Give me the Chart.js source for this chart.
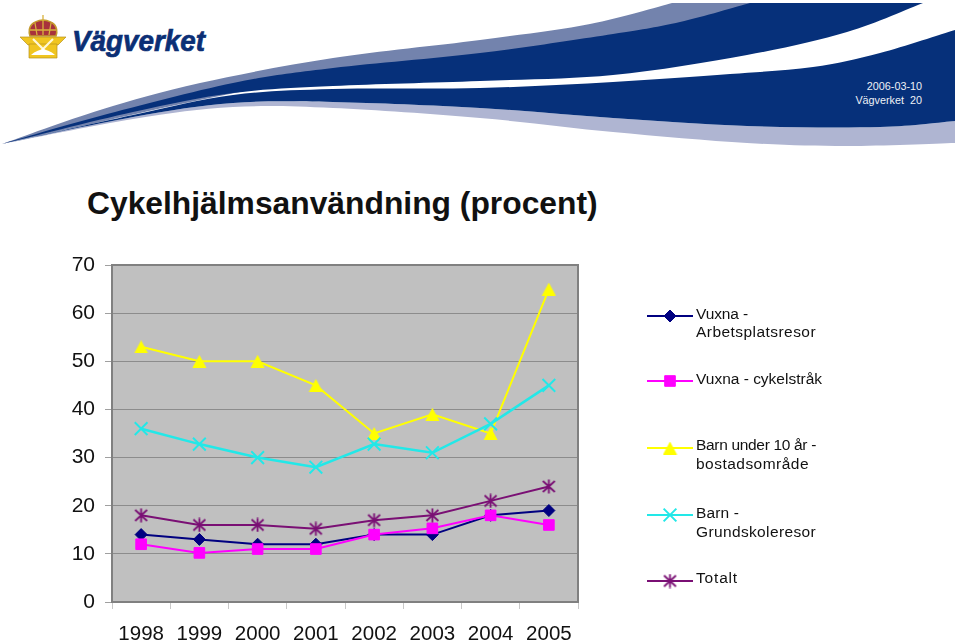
<!DOCTYPE html>
<html lang="sv">
<head>
  <meta charset="UTF-8">
  <title>Cykelhjälmsanvändning (procent)</title>
  <script src="https://cdn.jsdelivr.net/npm/chart.js"></script>
  <style>
    html, body { margin: 0; padding: 0; background: #fff; overflow: hidden; }
    body { width: 960px; height: 641px; position: relative; font-family: 'Liberation Sans', Arial, sans-serif; }
    #banner, canvas { position: absolute; left: 0; top: 0; }
    h1 {
      position: absolute; left: 87px; top: 184px; margin: 0;
      font-size: 31.8px; line-height: 38px; font-weight: bold; color: #111; white-space: nowrap;
    }
  </style>
</head>
<body>
  <svg id="banner" width="960" height="160" viewBox="0 0 960 160" xmlns="http://www.w3.org/2000/svg">
    <path id="lightTop" fill="#7383ad"></path>
    <path id="lightBottom" fill="#afb5d2"></path>
    <path id="darkTop" fill="#06307a"></path>
    <path id="darkBottom" fill="#06307a"></path>
    <!-- logo -->
    <path d="M30 36 C27 26 33 21 43 20 C53 21 59 26 56 36 Z" fill="#a8323c" stroke="#c49a2c" stroke-width="1.6"/>
    <path d="M43 15 v6 M35 23 L37 35 M43 21 V35 M51 23 L49 35 M30 30 H56" stroke="#d8b23e" stroke-width="1.3" fill="none"/>
    <path d="M20 37 H66 L58 45 H28 Z" fill="#f0c520" stroke="#b8921e" stroke-width="0.7"/>
    <path d="M29 44 H57 V58 H29 Z" fill="#f0c520" stroke="#b8921e" stroke-width="0.7"/>
    <path d="M33 39 L43 49 L53 39" fill="none" stroke="#fff8d8" stroke-width="2.2"/>
    <path d="M31 55 C36 50 40 51 43 48 C46 51 50 50 55 55 Z" fill="#fff"/>
    <text x="72" y="51" font-family="Liberation Sans" font-weight="bold" font-style="italic" font-size="30" fill="#0b2f75" stroke="#0b2f75" stroke-width="0.7" textLength="133" lengthAdjust="spacingAndGlyphs">Vägverket</text>
    <text x="922" y="90" text-anchor="end" font-family="Liberation Sans" font-size="10.8" fill="#eef0f6">2006-03-10</text>
    <text x="922" y="104" text-anchor="end" font-family="Liberation Sans" font-size="10.8" fill="#eef0f6" xml:space="preserve">Vägverket  20</text>
  </svg>
  <h1>Cykelhjälmsanvändning (procent)</h1>
  <canvas id="chart" width="960" height="641"></canvas>

  <script>
    const years = ['1998', '1999', '2000', '2001', '2002', '2003', '2004', '2005'];
    const yTicks = [0, 10, 20, 30, 40, 50, 60, 70];

    const vuxnaArbete = [14, 13, 12, 12, 14, 14, 18, 19];
    const vuxnaCykel = [12, 10.2, 11, 11, 14, 15.3, 18, 16];
    const barnUnder10 = [53, 50, 50, 45, 35, 39, 35, 65];
    const barnSkola = [36, 32.8, 30, 28, 32.8, 31, 37, 45];
    const totalt = [18, 16, 16, 15.2, 17, 18, 21, 24];

    const legendLabels = [
      ['Vuxna -', 'Arbetsplatsresor'],
      ['Vuxna - cykelstråk'],
      ['Barn under 10 år -', 'bostadsområde'],
      ['Barn -', 'Grundskoleresor'],
      ['Totalt']
    ];
    const legendLineY = [316, 381, 448, 515, 581];
    const legendTextY = [[315, 333], [380], [446, 465], [514, 533], [579]];
    const legendTextWidth = [[52, 120], [126], [120, 113], [43, 120], [42]];

    // banner shapes, smoothed through hand-read outline points
    function smooth(pts) {
      let d = '';
      for (let i = 0; i < pts.length - 1; i++) {
        const p0 = pts[i - 1] || pts[i], p1 = pts[i], p2 = pts[i + 1], p3 = pts[i + 2] || p2;
        d += ' C' + (p1[0] + (p2[0] - p0[0]) / 6) + ' ' + (p1[1] + (p2[1] - p0[1]) / 6) + ' ' +
          (p2[0] - (p3[0] - p1[0]) / 6) + ' ' + (p2[1] - (p3[1] - p1[1]) / 6) + ' ' + p2[0] + ' ' + p2[1];
      }
      return d;
    }
    function band(id, upper, lower) {
      const d = 'M' + upper[0].join(' ') + smooth(upper) + ' L' + lower[0].join(' ') + smooth(lower) + ' Z';
      document.getElementById(id).setAttribute('d', d);
    }
    band('lightTop',
      [[2, 144], [100, 110], [200, 83], [333, 58], [480, 40], [590, 24], [672, 3]],
      [[760, 3], [680, 26], [590, 42], [480, 56], [333, 75], [200, 100], [100, 122], [2, 144]]);
    band('darkTop',
      [[2, 144], [100, 116], [233, 83], [333, 68], [480, 53], [613, 34], [680, 22], [750, 3]],
      [[923, 3], [847, 32], [747, 55], [613, 75], [480, 81], [333, 86], [233, 93], [133, 112], [2, 144]]);
    band('darkBottom',
      [[2, 144], [133, 115], [233, 95], [333, 89], [480, 88], [613, 82], [730, 74], [813, 67], [880, 53], [955, 30]],
      [[955, 121], [880, 127], [747, 126], [613, 118], [480, 108], [333, 102], [233, 103], [133, 117], [2, 144]]);
    band('lightBottom',
      [[2, 144], [133, 117], [233, 103], [333, 102], [480, 108], [613, 118], [747, 126], [880, 127], [955, 121]],
      [[955, 143], [847, 146], [747, 143], [613, 132], [480, 118], [333, 108], [233, 107], [133, 119], [2, 144]]);

    // excel style star: an x with a vertical stroke
    const star = document.createElement('canvas');
    star.width = 15; star.height = 15;
    const sc = star.getContext('2d');
    sc.strokeStyle = '#7a0f74';
    sc.lineWidth = 1.8;
    sc.beginPath();
    sc.moveTo(1.5, 2); sc.lineTo(13.5, 13);
    sc.moveTo(13.5, 2); sc.lineTo(1.5, 13);
    sc.moveTo(7.5, 0.5); sc.lineTo(7.5, 14.5);
    sc.stroke();

    // triangle centred on its point, the built in one sits too high
    const triangle = document.createElement('canvas');
    triangle.width = 15; triangle.height = 13;
    const tc = triangle.getContext('2d');
    tc.fillStyle = '#ffff00';
    tc.beginPath();
    tc.moveTo(7.5, 0); tc.lineTo(14.5, 13); tc.lineTo(0.5, 13);
    tc.fill();

    function series(label, data, color, pointStyle, pointRadius, order, width, markerWidth) {
      return {
        label, data, order, borderColor: color, backgroundColor: color,
        borderWidth: width, tension: 0, pointStyle, pointRadius,
        pointBorderColor: color, pointBackgroundColor: color, pointBorderWidth: markerWidth
      };
    }

    const plotBackground = {
      id: 'plotBackground',
      beforeDraw(chart) {
        const a = chart.chartArea, c = chart.ctx;
        c.save();
        c.fillStyle = '#c0c0c0';
        c.fillRect(a.left, a.top, a.width, a.height);
        c.restore();
      },
      afterDraw(chart) {
        const a = chart.chartArea, c = chart.ctx;
        c.save();
        c.strokeStyle = '#808080';
        c.lineWidth = 2;
        c.strokeRect(a.left, a.top, a.width, a.height);
        c.restore();
      }
    };

    const sideLegend = {
      id: 'sideLegend',
      afterDraw(chart) {
        const c = chart.ctx;
        c.save();
        chart.data.datasets.forEach((ds, i) => {
          const y = legendLineY[i];
          c.strokeStyle = ds.borderColor;
          c.fillStyle = ds.backgroundColor;
          c.lineWidth = 2;
          c.beginPath();
          c.moveTo(647, y);
          c.lineTo(693, y);
          c.stroke();
          c.lineWidth = ds.pointBorderWidth;
          Chart.helpers.drawPoint(c, {
            pointStyle: ds.pointStyle, radius: ds.pointRadius, rotation: 0, borderWidth: ds.pointBorderWidth
          }, 670, y);
          c.fillStyle = '#111';
          c.font = '15.5px "Liberation Sans"';
          c.textBaseline = 'middle';
          legendLabels[i].forEach((line, j) => {
            c.letterSpacing = '0px';
            const gap = (legendTextWidth[i][j] - c.measureText(line).width) / line.length;
            c.letterSpacing = gap + 'px';
            c.fillText(line, 696, legendTextY[i][j]);
          });
        });
        c.restore();
      }
    };

    new Chart(document.getElementById('chart'), {
      type: 'line',
      data: {
        labels: years,
        datasets: [
          series('Vuxna - Arbetsplatsresor', vuxnaArbete, '#000080', 'rectRot', 6, 4, 2, 1),
          series('Vuxna - cykelstråk', vuxnaCykel, '#ff00ff', 'rect', 7.5, 3, 2, 1),
          series('Barn under 10 år - bostadsområde', barnUnder10, '#ffff00', triangle, 7, 2, 2, 1),
          series('Barn - Grundskoleresor', barnSkola, '#22e8e8', 'crossRot', 9, 1, 2.5, 2),
          series('Totalt', totalt, '#7a0f74', star, 8, 0, 2, 1)
        ]
      },
      options: {
        responsive: false,
        animation: false,
        devicePixelRatio: 1,
        layout: { padding: { top: 265, right: 382, bottom: 0, left: 0 } },
        plugins: { legend: { display: false }, tooltip: { enabled: false } },
        scales: {
          x: {
            offset: true,
            afterFit(s) { s.height = 39; },
            grid: { drawOnChartArea: false, offset: true, color: '#c8c8c8', tickLength: 7, tickWidth: 1 },
            border: { display: false },
            ticks: { color: '#111', font: { family: 'Liberation Sans', size: 20.5 }, padding: 13, maxRotation: 0, autoSkip: false }
          },
          y: {
            min: 0,
            max: 70,
            afterFit(s) { s.width = 112; },
            afterBuildTicks(s) { s.ticks = yTicks.map(v => ({ value: v })); },
            grid: { color: '#8c8c8c', lineWidth: 1, tickColor: '#a0a0a0', tickLength: 7 },
            border: { display: false },
            ticks: { color: '#111', font: { family: 'Liberation Sans', size: 21 }, padding: 10 }
          }
        }
      },
      plugins: [plotBackground, sideLegend]
    });
  </script>
</body>
</html>
